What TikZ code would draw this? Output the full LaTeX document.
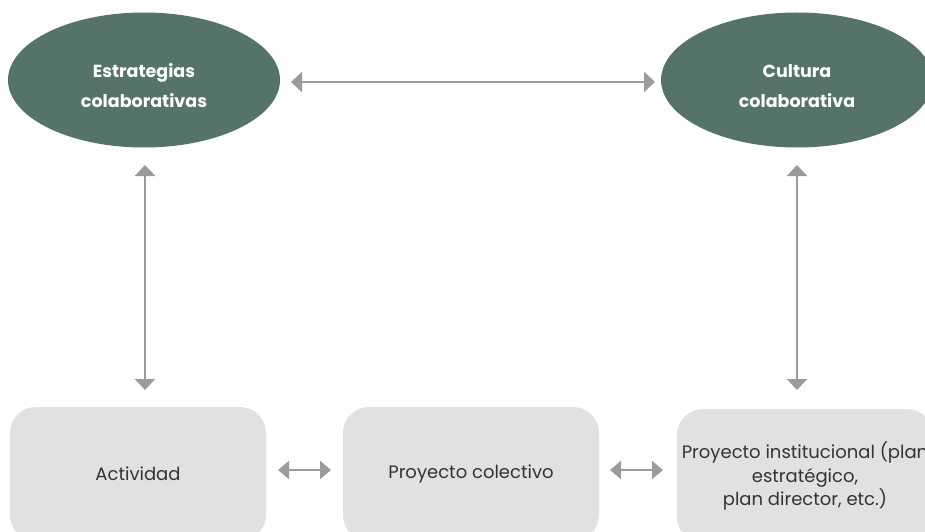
\documentclass[tikz,border=0pt]{standalone}
\usepackage{fontspec}
\setmainfont{Poppins}
\usetikzlibrary{arrows.meta,shapes.geometric}
\definecolor{ovalgreen}{HTML}{56736B}
\definecolor{boxgray}{HTML}{DFE2E1}
\definecolor{arrowgray}{HTML}{9B9B9F}
\definecolor{textdark}{HTML}{333333}
\tikzset{
  oval/.style={ellipse, fill=ovalgreen, minimum width=272pt, minimum height=135pt,
    inner sep=0pt},
  ovaltext/.style={inner sep=0pt, text=white,
    font=\fontsize{17.5pt}{30pt}\selectfont\bfseries, align=center},
  card/.style={rectangle, rounded corners=26pt, fill=boxgray, minimum width=256pt,
    minimum height=134pt, inner sep=0pt, text=textdark,
    font=\fontsize{18pt}{23.5pt}\selectfont, align=center},
  link/.style={draw=arrowgray, line width=2.5pt,
    {Triangle[length=11pt,width=20pt]}-{Triangle[length=11pt,width=20pt]}},
  smalllink/.style={draw=arrowgray, line width=2.2pt,
    {Triangle[length=11pt,width=18pt]}-{Triangle[length=11pt,width=18pt]}}
}
\begin{document}
\begin{tikzpicture}[x=1pt,y=-1pt]
\useasboundingbox (0,0) rectangle (925,532);
\begin{scope}
\clip (0,0) rectangle (925,532);
% upper level: the two collaborative concepts
\node[oval] (strat) at (144,80) {};
\node[ovaltext] (strattxt) at (144,86) {Estrategias\\colaborativas};
\node[oval] (cult) at (797,80) {};
\node[ovaltext] (culttxt) at (797,86) {Cultura\\colaborativa};
% lower level: the three project scales
\node[card] (act) at (138,474) {Actividad};
\node[card] (col) at (471,474) {Proyecto colectivo};
\node[card] (inst) at (805,476) {Proyecto institucional (plan\\estratégico,\\plan director, etc.)};
\end{scope}
% connector end points
\coordinate (h1) at (291,82);
\coordinate (h2) at (655,82);
\coordinate (vl1) at (145,165);
\coordinate (vl2) at (145,390);
\coordinate (vr1) at (797,165);
\coordinate (vr2) at (797,390);
\coordinate (s1a) at (278,470);
\coordinate (s1b) at (331,470);
\coordinate (s2a) at (610,470);
\coordinate (s2b) at (663,470);
\draw[link] (h1) -- (h2);
\draw[link] (vl1) -- (vl2);
\draw[link] (vr1) -- (vr2);
\draw[smalllink] (s1a) -- (s1b);
\draw[smalllink] (s2a) -- (s2b);
\end{tikzpicture}
\end{document}
